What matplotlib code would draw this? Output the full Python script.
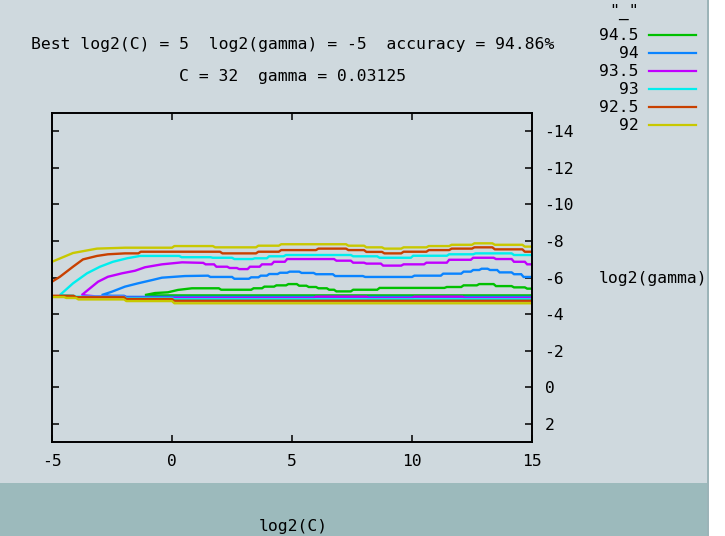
import matplotlib
matplotlib.use("Agg")
import matplotlib.pyplot as plt
from matplotlib.patches import Rectangle
from matplotlib.lines import Line2D

plt.rcParams['font.family'] = ['DejaVu Sans Mono']
plt.rcParams['axes.unicode_minus'] = False

# ---------------- data ----------------
levels = [94.5, 94, 93.5, 93, 92.5, 92]
level_colors = ['#00c000', '#0a84ff', '#c000ff', '#00eeee', '#c84000', '#c8c800']

title1 = "Best log2(C) = 5  log2(gamma) = -5  accuracy = 94.86%"
title2 = "C = 32  gamma = 0.03125"
x_ticks = [-5, 0, 5, 10, 15]
y_ticks = [2, 0, -2, -4, -6, -8, -10, -12, -14]

# upper branches of contour lines (log2C, log2gamma)
g945_up_x = [-1.125, -0.71, -0.17, 0.25, 0.83, 1.95, 2.05, 3.3, 3.4, 3.75, 3.85, 4.25, 4.35, 4.75, 4.85, 5.2, 5.3, 5.6, 5.7, 6.0, 6.1, 6.45, 6.55, 6.75, 6.85, 7.45, 7.55, 8.55, 8.65, 11.35, 11.45, 12.05, 12.15, 12.7, 12.8, 13.4, 13.5, 14.15, 14.25, 14.7, 14.8, 15]
g945_up_y = [-5.04, -5.15, -5.19, -5.32, -5.41, -5.41, -5.33, -5.33, -5.41, -5.41, -5.50, -5.50, -5.57, -5.57, -5.64, -5.64, -5.55, -5.55, -5.48, -5.48, -5.41, -5.41, -5.33, -5.33, -5.24, -5.24, -5.33, -5.33, -5.43, -5.43, -5.48, -5.48, -5.57, -5.57, -5.64, -5.64, -5.53, -5.53, -5.46, -5.46, -5.39, -5.39]

g94_up_x = [-2.93, -2.51, -1.96, -1.42, -0.83, -0.42, 0.54, 1.5, 1.6, 2.5, 2.6, 3.2, 3.3, 3.6, 3.7, 3.95, 4.05, 4.4, 4.5, 4.8, 4.9, 5.3, 5.4, 5.9, 6.0, 6.7, 6.8, 7.95, 8.05, 10.0, 10.1, 11.2, 11.3, 12.05, 12.15, 12.45, 12.55, 12.8, 12.9, 13.15, 13.25, 13.55, 13.65, 14.15, 14.25, 14.55, 14.65, 15]
g94_up_y = [-5.04, -5.22, -5.50, -5.68, -5.86, -5.99, -6.08, -6.10, -6.03, -6.03, -5.93, -5.93, -6.01, -6.01, -6.10, -6.10, -6.19, -6.19, -6.26, -6.26, -6.32, -6.32, -6.25, -6.25, -6.18, -6.18, -6.08, -6.08, -6.03, -6.03, -6.10, -6.10, -6.21, -6.21, -6.32, -6.32, -6.41, -6.41, -6.48, -6.48, -6.41, -6.41, -6.28, -6.28, -6.18, -6.18, -6.03, -6.03]

g935_up_x = [-3.76, -3.5, -3.08, -2.67, -2.08, -1.54, -1.125, -0.42, 0.42, 1.3, 1.4, 1.75, 1.85, 2.3, 2.4, 2.7, 2.8, 3.15, 3.25, 3.65, 3.75, 4.15, 4.25, 4.7, 4.8, 6.75, 6.85, 7.45, 7.55, 8.0, 8.1, 8.7, 8.8, 9.55, 9.65, 10.5, 10.6, 11.45, 11.55, 12.45, 12.55, 13.4, 13.5, 14.15, 14.25, 14.7, 14.8, 15]
g935_up_y = [-5.04, -5.32, -5.77, -6.04, -6.23, -6.37, -6.56, -6.72, -6.83, -6.80, -6.72, -6.72, -6.59, -6.59, -6.52, -6.52, -6.46, -6.46, -6.59, -6.59, -6.72, -6.72, -6.86, -6.86, -7.01, -7.01, -6.92, -6.92, -6.81, -6.81, -6.76, -6.76, -6.65, -6.65, -6.72, -6.72, -6.81, -6.81, -6.97, -6.97, -7.08, -7.08, -7.01, -7.01, -6.86, -6.86, -6.72, -6.72]

g93_up_x = [-4.67, -4.125, -3.54, -3.0, -2.46, -1.875, -1.33, 0.3, 0.4, 1.6, 1.7, 2.5, 2.6, 3.35, 3.45, 3.95, 4.05, 4.65, 4.75, 7.45, 7.55, 8.55, 8.65, 9.95, 10.05, 11.45, 11.55, 12.55, 12.65, 14.15, 14.25, 15]
g93_up_y = [-5.04, -5.68, -6.23, -6.59, -6.86, -7.05, -7.18, -7.18, -7.11, -7.11, -7.08, -7.08, -7.01, -7.01, -7.05, -7.05, -7.16, -7.16, -7.23, -7.23, -7.16, -7.16, -7.08, -7.08, -7.19, -7.19, -7.27, -7.27, -7.32, -7.32, -7.23, -7.23]

g925_up_x = [-5, -4.67, -4.125, -3.71, -3.125, -2.67, -1.96, -1.4, -1.3, 2.0, 2.1, 3.5, 3.6, 4.45, 4.55, 6.0, 6.1, 7.25, 7.35, 8.0, 8.1, 8.75, 8.85, 9.55, 9.65, 10.6, 10.7, 11.55, 11.65, 12.5, 12.6, 13.35, 13.45, 14.6, 14.7, 15]
g925_up_y = [-5.77, -6.04, -6.59, -6.99, -7.18, -7.27, -7.32, -7.32, -7.41, -7.41, -7.32, -7.32, -7.41, -7.41, -7.50, -7.50, -7.58, -7.58, -7.50, -7.50, -7.40, -7.40, -7.32, -7.32, -7.41, -7.41, -7.50, -7.50, -7.58, -7.58, -7.65, -7.65, -7.54, -7.54, -7.41, -7.41]

g92_up_x = [-5, -4.125, -3.125, -1.96, 0.0, 0.1, 1.7, 1.8, 3.5, 3.6, 4.45, 4.55, 7.25, 7.35, 8.0, 8.1, 8.75, 8.85, 9.55, 9.65, 10.6, 10.7, 11.55, 11.65, 12.5, 12.6, 13.35, 13.45, 14.6, 14.7, 15]
g92_up_y = [-6.86, -7.34, -7.58, -7.63, -7.63, -7.72, -7.72, -7.65, -7.65, -7.74, -7.74, -7.82, -7.82, -7.74, -7.74, -7.65, -7.65, -7.58, -7.58, -7.65, -7.65, -7.72, -7.72, -7.79, -7.79, -7.87, -7.87, -7.79, -7.79, -7.69, -7.69]

# lower branches (near log2gamma = -5)
g945_lo_x = [-1.125, -0.7, 15]
g945_lo_y = [-5.04, -5.02, -5.02]
g94_lo_x = [-2.93, -2.5, -2.0, -1.9, 15]
g94_lo_y = [-5.04, -5.0, -5.0, -4.94, -4.94]
g935_lo_x = [-3.76, -3.2, -2.0, -1.9, 5.9, 6.0, 8.1, 8.2, 10.0, 10.1, 12.1, 12.2, 15]
g935_lo_y = [-5.04, -4.97, -4.97, -4.88, -4.88, -4.95, -4.95, -4.88, -4.88, -4.95, -4.95, -4.88, -4.88]
g93_lo_x = [-4.67, -4.1, -4.0, -2.0, -1.9, 0.0, 0.1, 15]
g93_lo_y = [-5.04, -5.0, -4.95, -4.95, -4.86, -4.86, -4.81, -4.81]
g925_lo_x = [-5, -4.1, -4.0, -2.0, -1.9, 0.0, 0.1, 15]
g925_lo_y = [-5.0, -5.0, -4.92, -4.92, -4.82, -4.82, -4.73, -4.73]
g92_lo_x = [-5, -4.5, -4.4, -4.0, -3.9, -2.0, -1.9, 0.0, 0.1, 15]
g92_lo_y = [-4.93, -4.93, -4.88, -4.88, -4.80, -4.80, -4.71, -4.71, -4.59, -4.59]

uppers = [(g945_up_x, g945_up_y), (g94_up_x, g94_up_y), (g935_up_x, g935_up_y),
          (g93_up_x, g93_up_y), (g925_up_x, g925_up_y), (g92_up_x, g92_up_y)]
lowers = [(g945_lo_x, g945_lo_y), (g94_lo_x, g94_lo_y), (g935_lo_x, g935_lo_y),
          (g93_lo_x, g93_lo_y), (g925_lo_x, g925_lo_y), (g92_lo_x, g92_lo_y)]

# ---------------- styling ----------------
W, H = 725, 536
BG = '#cfd9de'
BAND = '#9cbabc'
FS = 11.8
LW = 1.7

fig = plt.figure(figsize=(W / 100, H / 100), dpi=100, facecolor=BG)
fig.patches.append(Rectangle((0, 0), 707 / W, (H - 483) / H, transform=fig.transFigure,
                             facecolor=BAND, edgecolor='none', zorder=0))
fig.patches.append(Rectangle((707 / W, 0), 2 / W, 1, transform=fig.transFigure,
                             facecolor='#9cb4b8', edgecolor='none', zorder=0))
fig.patches.append(Rectangle((709 / W, 0), 16 / W, 1, transform=fig.transFigure,
                             facecolor='white', edgecolor='none', zorder=0))

ax = fig.add_axes([52 / W, 1 - 442 / H, 480 / W, 329 / H])
ax.set_facecolor(BG)
ax.set_xlim(-5, 15)
ax.set_ylim(3, -15)

for (ux, uy), (lx, ly), col in zip(uppers, lowers, level_colors):
    if lx[0] == ux[0] and ly[0] == uy[0]:
        xs = list(reversed(lx)) + ux[1:]
        ys = list(reversed(ly)) + uy[1:]
        ax.plot(xs, ys, color=col, lw=LW, solid_joinstyle='miter')
    else:
        ax.plot(ux, uy, color=col, lw=LW)
        ax.plot(lx, ly, color=col, lw=LW)

ax.set_xticks(x_ticks)
ax.set_xticklabels([str(v) for v in x_ticks])
ax.set_yticks(y_ticks)
ax.set_yticklabels([str(v) for v in y_ticks])
ax.tick_params(axis='both', direction='in', length=5, width=1.1, labelsize=FS,
               top=True, right=True, colors='black')
ax.tick_params(axis='x', pad=9)
ax.tick_params(axis='y', left=True, right=True, labelleft=False, labelright=True, pad=9)
for s in ax.spines.values():
    s.set_linewidth(1.4)
    s.set_color('black')

fig.text(293 / W, 1 - 44 / H, title1, ha='center', va='center', fontsize=FS)
fig.text(293 / W, 1 - 77 / H, title2, ha='center', va='center', fontsize=FS)
fig.text(293 / W, 1 - 526 / H, 'log2(C)', ha='center', va='center', fontsize=FS)
fig.text(653 / W, 1 - 279 / H, 'log2(gamma)', ha='center', va='center', fontsize=FS)

# key
fig.text(639 / W, 1 - 12 / H, '"_"', ha='right', va='center', fontsize=FS)
for i, (lev, col) in enumerate(zip(levels, level_colors)):
    yy = 1 - (35 + 18.1 * i) / H
    fig.text(639 / W, yy, f'{lev:g}', ha='right', va='center', fontsize=FS)
    fig.add_artist(Line2D([649 / W, 696 / W], [yy, yy], transform=fig.transFigure,
                          color=col, lw=1.6))

fig.savefig('out.png', dpi=100, facecolor=BG)
